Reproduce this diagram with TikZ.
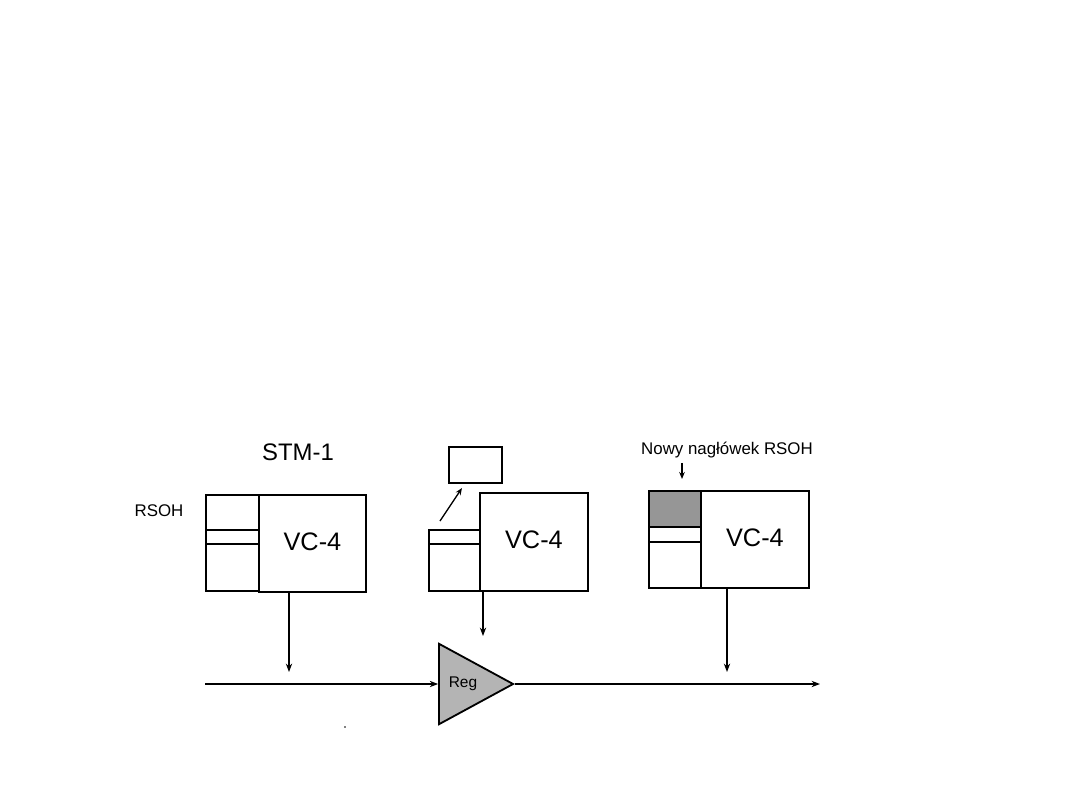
\documentclass[tikz,border=0pt]{standalone}
\usepackage{fontspec}
\setmainfont{Liberation Sans}
\usetikzlibrary{arrows.meta,positioning,calc,shapes.geometric}
\definecolor{headergrey}{RGB}{150,150,150}
\definecolor{reggrey}{RGB}{180,180,180}

\begin{document}
\begin{tikzpicture}[
    x=0.025cm, y=-0.025cm,
    frame/.style={rectangle, draw=black, line width=1.3pt, fill=white, inner sep=0pt, anchor=north west},
    divider/.style={line width=1.3pt},
    vc label/.style={font=\fontsize{18}{20}\selectfont},
    arrow/.style={-{Stealth[length=6pt,width=4.5pt]}, line width=0.9pt},
    small arrow/.style={-{Stealth[length=5pt,width=4pt]}, line width=0.9pt}
]
    \useasboundingbox (0,0) rectangle (1080,810);

    % First frame (STM-1)
    \node[frame, minimum width=1.325cm, minimum height=2.4cm] (rsoh1) at (205,494) {};
    \node[frame, minimum width=2.675cm, minimum height=2.425cm] (vc1) at (258,494) {};
    \node[vc label] (vclab1) at ($(vc1.center)+(0,-2)$) {VC-4};
    \draw[divider] (rsoh1.west |- 0,530) -- (rsoh1.east |- 0,530);
    \draw[divider] (rsoh1.west |- 0,544) -- (rsoh1.east |- 0,544);
    \node[font=\fontsize{17}{19}\selectfont] (stm) at (298,452) {STM-1};
    \node[font=\fontsize{12}{14}\selectfont] (rsohlab) at (159,511) {RSOH};

    % Second frame (RSOH removed)
    \node[frame, minimum width=1.275cm, minimum height=1.525cm] (rsoh2) at (428,529) {};
    \node[frame, minimum width=2.7cm, minimum height=2.45cm] (vc2) at (479,492) {};
    \node[vc label] (vclab2) at ($(vc2.center)+(0,-2)$) {VC-4};
    \draw[divider] (rsoh2.west |- 0,544) -- (rsoh2.east |- 0,544);
    \node[frame, minimum width=1.325cm, minimum height=0.9cm] (old) at (448,446) {};
    \coordinate (oldfrom) at (440,521);
    \draw[small arrow] (oldfrom) -- (462,488);

    % Third frame (new RSOH)
    \fill[headergrey] (648,490) rectangle (700,527);
    \node[frame, fill=none, minimum width=1.3cm, minimum height=2.425cm] (rsoh3) at (648,490) {};
    \node[frame, minimum width=2.7cm, minimum height=2.425cm] (vc3) at (700,490) {};
    \node[vc label] (vclab3) at ($(vc3.center)+(0,-2)$) {VC-4};
    \draw[line width=2pt] (rsoh3.west |- 0,527) -- (rsoh3.east |- 0,527);
    \draw[divider] (rsoh3.west |- 0,542) -- (rsoh3.east |- 0,542);
    \node[font=\fontsize{12}{14}\selectfont] (newlab) at (727,450) {Nowy nagłówek RSOH};
    \draw[small arrow] (newlab.south -| 682,0) -- (682,479);

    % Transmission line and regenerator
    \node[isosceles triangle, isosceles triangle apex angle=57, draw=black, line width=1.3pt,
          fill=reggrey, minimum height=1.85cm, inner sep=0pt, anchor=apex] (reg) at (515,684) {};
    \node[font=\fontsize{11}{13}\selectfont] (reglab) at (463,684) {Reg};
    \coordinate (start) at (205,684);
    \coordinate (finish) at (820,684);
    \draw[arrow] (start) -- (reg.west |- start);
    \draw[arrow] (reg.apex) -- (finish);

    % Drops onto the line
    \draw[arrow] (vc1.south -| 289,0) -- (289,672);
    \draw[arrow] (vc2.south -| 483,0) -- (483,636);
    \draw[arrow] (vc3.south -| 727,0) -- (727,672);

    \fill (345,727) circle (0.6pt);
\end{tikzpicture}
\end{document}
